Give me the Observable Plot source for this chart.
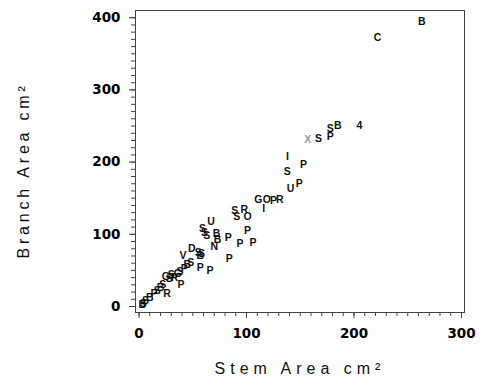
<!DOCTYPE html>
<html><head><meta charset="utf-8">
<script src="https://cdn.jsdelivr.net/npm/d3@7"></script>
<script src="https://cdn.jsdelivr.net/npm/@observablehq/plot@0.6"></script>
<style>body{margin:0;background:#fff}</style>
</head><body><div id="chart"></div>
<script>
const letters = ["B","C","4","B","S","P","S","X","I","P","S","P","U","G","O","P","R","I","S","R","S","O","S","U","P","S","S","B","B","P","N","P","P","V","D","S","B","S","P","P","P","S","B","P","G","S","G","S","P","S","R","B","S","P","R","S","B","S","B","S"];
const stem   = [263,222,205,185,178,178,167,157,138,153,138,149,141,111,119,125,131,116,89,98,91,101,59,67,101,61,63,72,73,83,70,94,106,41,49,55,57,58,84,57,66,48,45,42,36,38,25,28,39,30,33,20,22,14,26,17,10,6,3,4];
const branch = [394,372,251,250,246,235,232,231,207,197,187,170,163,148,148,147,148,135,133,134,124,124,108,117,105,103,98,101,93,96,83,87,89,71,80,75,71,73,67,54,50,61,58,52,45,48,42,38,30,44,40,26,30,18,18,22,12,8,2,4];
const xMajor = [0,100,200,300];
const yMajor = [0,100,200,300,400];
const xLabel = "Stem Area cm²";
const yLabel = "Branch Area cm²";

const data = letters.map((t,i)=>({t, x: stem[i], y: branch[i]}));
const tickFont = {fontFamily: "DejaVu Sans", fontWeight: "bold", fontSize: 13.5};

const chart = Plot.plot({
  width: 481, height: 382,
  marginLeft: 135, marginRight: 17, marginTop: 10, marginBottom: 70,
  x: {domain: [-3.3, 302.8]},
  y: {domain: [-8.3, 410]},
  marks: [
    Plot.frame({stroke: "#444"}),
    Plot.axisX({ticks: d3.range(0, 301, 10), tickSize: 4, tickFormat: () => "", label: null, stroke: "#444"}),
    Plot.axisX({ticks: xMajor, tickSize: 6, tickPadding: 10, label: null, stroke: "#444", ...tickFont}),
    Plot.axisY({ticks: d3.range(0, 401, 10), tickSize: 4, tickFormat: () => "", label: null, stroke: "#444"}),
    Plot.axisY({ticks: yMajor, tickSize: 6, tickPadding: 9, label: null, stroke: "#444", ...tickFont}),
    Plot.text(data, {x: "x", y: "y", text: "t", fill: d => d.t === "X" ? "#999" : "#111",
      fontSize: 10.5, fontWeight: "bold", fontFamily: "Liberation Sans"}),
    Plot.text([xLabel], {frameAnchor: "bottom", dy: 56, lineAnchor: "middle", textAnchor: "middle", text: d => d, fontSize: 16,
      fontFamily: "Liberation Sans", fill: "#111"}),
    Plot.text([yLabel], {frameAnchor: "left", dx: -112, dy: 9, rotate: -90, textAnchor: "middle", lineAnchor: "middle", text: d => d, fontSize: 16,
      fontFamily: "Liberation Sans", fill: "#111"})
  ]
});
document.getElementById("chart").append(chart);
// letter spacing for axis labels
chart.querySelectorAll("text").forEach(t => {
  if (t.textContent === xLabel) t.setAttribute("letter-spacing", "5");
  if (t.textContent === yLabel) t.setAttribute("letter-spacing", "3.8");
});
</script></body></html>
